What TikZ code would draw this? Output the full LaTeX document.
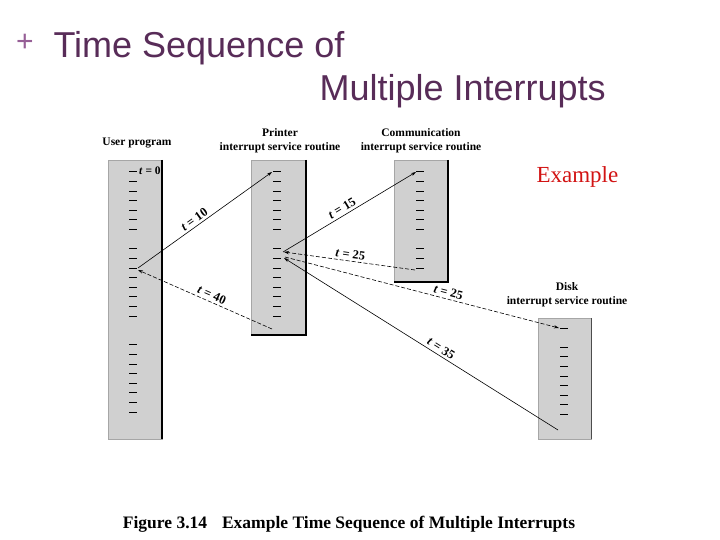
\documentclass[tikz,border=0pt]{standalone}
\usepackage{fontspec}
\setmainfont{Liberation Serif}
\newfontfamily\titlefont{Liberation Sans}
\usetikzlibrary{arrows.meta}
\definecolor{boxgray}{RGB}{208,208,208}
\definecolor{titlepurple}{RGB}{88,44,88}
\definecolor{pluspurple}{RGB}{150,95,150}
\definecolor{exred}{RGB}{210,20,20}
\begin{document}
\begin{tikzpicture}[x=1pt,y=-1pt,
  routine/.style={draw=gray!70, fill=boxgray, line width=0.5pt, inner sep=0pt, outer sep=0pt, anchor=north west},
  tick/.style={line width=1pt},
  hdr/.style={font=\fontsize{11.5}{14}\selectfont\bfseries, align=center},
  tlab/.style={font=\fontsize{12.5}{14}\selectfont\bfseries, inner sep=2.5pt, sloped, above},
  flow/.style={line width=0.6pt, -{Stealth[length=5pt,width=3.2pt]}},
  dflow/.style={flow, dash pattern=on 4pt off 2pt},
  ttl/.style={font=\titlefont\fontsize{36}{40}\selectfont, anchor=base west, text=titlepurple},
]
\useasboundingbox (0,0) rectangle (720,540);

% title
\node[font=\titlefont\fontsize{30}{32}\selectfont, text=pluspurple, anchor=base west, inner sep=0pt] (plus) at (16,52) {+};
\node[ttl] (title1) at (50,58) {Time Sequence of};
\node[ttl] (title2) at (316,101) {Multiple Interrupts};

\node[font=\fontsize{23}{26}\selectfont, text=exred, anchor=base west] (ex) at (533,183) {Example};

% headers
\node[hdr] (huser) at (137,143) {User program};
\node[hdr] (hprint) at (280,141) {Printer\\interrupt service routine};
\node[hdr] (hcomm) at (421,141) {Communication\\interrupt service routine};
\node[hdr] (hdisk) at (567,295) {Disk\\interrupt service routine};

% boxes
\node[routine, minimum width=54pt, minimum height=279pt] (user) at (108,160) {};
\node[routine, minimum width=55pt, minimum height=175pt] (print) at (251,160) {};
\node[routine, minimum width=54pt, minimum height=122pt] (comm) at (394,160) {};
\node[routine, minimum width=53pt, minimum height=121pt] (disk) at (538,318) {};
\draw[line width=1.2pt] (user.north east) -- (user.south east);
\draw[line width=1.2pt] (print.north east) -- (print.south east) -- (print.south west);
\draw[line width=1.2pt] (comm.north east) -- (comm.south east) -- (comm.south west);
\draw[line width=0.9pt, gray!60!black] (disk.north east) -- (disk.south east);

% ticks
\foreach \k in {0,1,2,3,4,5,6,8,9,10,11,12,13,14,15,18,19,20,21,22,23,24,25}
  \draw[tick] ({129},{172+\k*9.6}) -- ({137},{172+\k*9.6});
\foreach \k in {0,1,2,3,4,5,6,8,9,10,11,12,13,14,15}
  \draw[tick] ({273},{172+\k*9.6}) -- ({281},{172+\k*9.6});
\foreach \k in {0,1,2,3,4,5,6,8,9,10}
  \draw[tick] ({416},{172+\k*9.6}) -- ({424},{172+\k*9.6});
\foreach \k in {0,2,3,4,5,6,7,8,9}
  \draw[tick] ({560},{328+\k*9.6}) -- ({568},{328+\k*9.6});

\node[font=\fontsize{11.5}{13}\selectfont\bfseries, anchor=west, inner sep=1pt] (t0) at (138,171) {\textit{t} = 0};

% connection points
\coordinate (u10) at (138,268);
\coordinate (u40) at (138,270);
\coordinate (p0) at (272,172);
\coordinate (p15) at (283,252);
\coordinate (p25a) at (284,252);
\coordinate (p25b) at (285,257);
\coordinate (p35) at (284,258);
\coordinate (pend) at (272,329);
\coordinate (c0) at (416,172);
\coordinate (cend) at (415,270);
\coordinate (d0) at (559,328);
\coordinate (dend) at (558,430);

% flows
\draw[flow] (u10) -- node[tlab, pos=0.45] (l10) {\textit{t} = 10} (p0);
\draw[flow] (p15) -- node[tlab, pos=0.47] (l15) {\textit{t} = 15} (c0);
\draw[dflow] (cend) -- node[tlab, pos=0.5] (l25a) {\textit{t} = 25} (p25a);
\draw[dflow] (p25b) -- node[tlab, pos=0.59] (l25b) {\textit{t} = 25} (d0);
\draw[flow] (dend) -- node[tlab, pos=0.44] (l35) {\textit{t} = 35} (p35);
\draw[dflow] (pend) -- node[tlab, pos=0.47] (l40) {\textit{t} = 40} (u40);

% caption
\node[font=\fontsize{17.5}{20}\selectfont\bfseries, anchor=base] (cap) at (349,528) {Figure 3.14\hspace{0.6em} Example Time Sequence of Multiple Interrupts};
\end{tikzpicture}
\end{document}
